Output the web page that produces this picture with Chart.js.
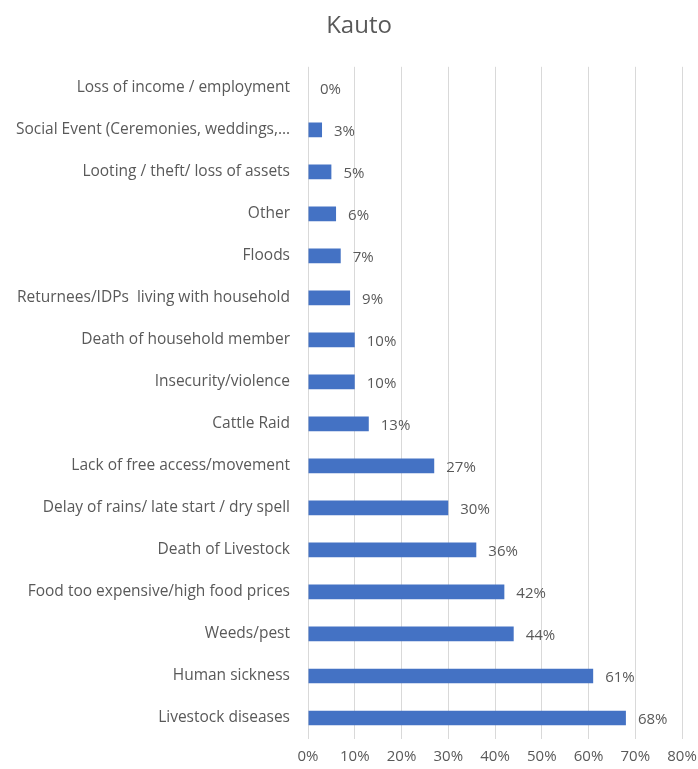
<!DOCTYPE html>
<html>
<head>
<meta charset="utf-8">
<script src="https://cdn.jsdelivr.net/npm/chart.js@4/dist/chart.umd.min.js"></script>
<style>
  html, body { margin: 0; padding: 0; background: #fff; }
  #wrap { width: 698px; height: 769px; }
</style>
</head>
<body>
<div id="wrap"><canvas id="chart"></canvas></div>
<script>
const categories = [
  "Loss of income / employment",
  "Social Event (Ceremonies, weddings,\u2026",
  "Looting / theft/ loss of assets",
  "Other",
  "Floods",
  "Returnees/IDPs  living with household",
  "Death of household member",
  "Insecurity/violence",
  "Cattle Raid",
  "Lack of free access/movement",
  "Delay of rains/ late start / dry spell",
  "Death of Livestock",
  "Food too expensive/high food prices",
  "Weeds/pest",
  "Human sickness",
  "Livestock diseases"
];
const shares = [0, 3, 5, 6, 7, 9, 10, 10, 13, 27, 30, 36, 42, 44, 61, 68];
const xTicks = [0, 10, 20, 30, 40, 50, 60, 70, 80];

const textColor = "#595959";
const font = "'Open Sans', sans-serif";

// percentage labels to the right of each bar
const barLabels = {
  id: "barLabels",
  afterDatasetsDraw(chart) {
    const ctx = chart.ctx;
    const meta = chart.getDatasetMeta(0);
    ctx.save();
    ctx.fillStyle = textColor;
    ctx.font = "15px " + font;
    ctx.textBaseline = "middle";
    ctx.textAlign = "left";
    meta.data.forEach((bar, i) => {
      ctx.fillText(shares[i] + "%", bar.x + 12, bar.y + 2);
    });
    ctx.restore();
  }
};

// nudge the title box so the heading sits a bit right of the canvas centre
const titleShift = {
  id: "titleShift",
  afterLayout(chart) {
    if (chart.titleBlock) chart.titleBlock.left = 36;
  }
};

new Chart(document.getElementById("chart"), {
  type: "bar",
  data: {
    labels: categories,
    datasets: [{
      data: shares,
      backgroundColor: "#4472C4",
      categoryPercentage: 1,
      barPercentage: 0.35
    }]
  },
  options: {
    indexAxis: "y",
    responsive: true,
    maintainAspectRatio: false,
    animation: false,
    layout: { padding: { top: 12, right: 16, bottom: -6, left: 0 } },
    plugins: {
      legend: { display: false },
      tooltip: { enabled: false },
      title: {
        display: true,
        text: "Kauto",
        color: textColor,
        font: { family: font, size: 24, weight: "normal" },
        padding: { top: 0, bottom: 26 }
      }
    },
    scales: {
      x: {
        min: 0,
        max: 80,
        afterBuildTicks(axis) {
          axis.ticks = xTicks.map(v => ({ value: v }));
        },
        afterFit(axis) {
          axis.paddingLeft = 0;
          axis.paddingRight = 0;
        },
        ticks: {
          color: textColor,
          font: { family: font, size: 15 },
          padding: 9,
          callback: v => v + "%"
        },
        grid: { color: "#d9d9d9", drawTicks: false },
        border: { display: false }
      },
      y: {
        afterFit(axis) { axis.width = 308; },
        ticks: {
          color: textColor,
          font: { family: font, size: 15.5 },
          padding: 10,
          autoSkip: false
        },
        grid: { display: false },
        border: { display: false }
      }
    }
  },
  plugins: [barLabels, titleShift]
});
</script>
</body>
</html>
